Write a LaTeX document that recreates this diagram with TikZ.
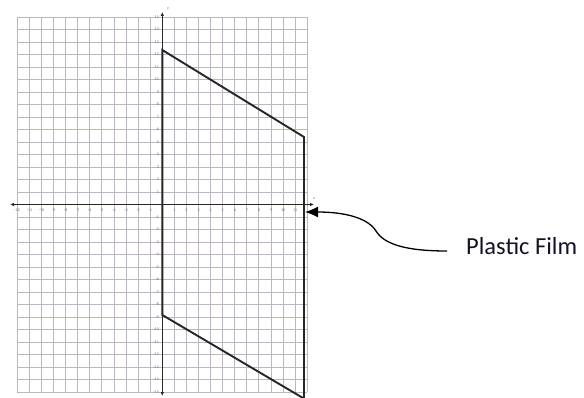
\documentclass[tikz,border=0pt]{standalone}
\usepackage{fontspec}
\setmainfont{Carlito}
\usetikzlibrary{arrows.meta}
\definecolor{gridc}{RGB}{188,182,192}
\definecolor{axisc}{RGB}{40,40,40}
\definecolor{tickc}{RGB}{110,110,110}
\definecolor{filmtextc}{RGB}{20,20,40}
\begin{document}
\begin{tikzpicture}[x=1pt,y=-1pt,
  gridline/.style={draw=gridc,line width=0.9pt},
  axisline/.style={draw=axisc,line width=1pt,{Latex[length=4pt,width=3.5pt]}-{Latex[length=4pt,width=3.5pt]}},
  filmline/.style={draw=black!85,line width=1.9pt},
  ticklbl/.style={font=\fontsize{4}{4}\selectfont,text=tickc,inner sep=0pt},
  filmtext/.style={font=\fontsize{24.5}{28}\selectfont,text=filmtextc,inner sep=0pt},
  pointer/.style={draw=black,line width=1.3pt,-{Latex[length=13pt,width=11pt]}}]
\useasboundingbox (0,0) rectangle (584,398);
\fill[white] (0,0) rectangle (584,398);
% grid
\foreach \i in {-12,...,12}
  \draw[gridline] ({162.3+12.08*\i},17) -- ({162.3+12.08*\i},392);
\foreach \j in {-15,...,15}
  \draw[gridline] (17.3,{204.5+12.5*\j}) -- (307.3,{204.5+12.5*\j});
% axes
\coordinate (xleft) at (10,204.5);
\coordinate (xright) at (314,204.5);
\coordinate (ybottom) at (162.3,396);
\coordinate (ytop) at (162.3,12);
\draw[axisline] (xleft) -- (xright);
\draw[axisline] (ybottom) -- (ytop);
\node[ticklbl] (ylab) at (168,9) {y};
\node[ticklbl] (xlab) at (314,199) {x};
% tick labels
\foreach \i in {-12,...,-1}
  \node[ticklbl] at ({162.3+12.08*\i},210) {\i};
\foreach \i in {1,...,11}
  \node[ticklbl] at ({162.3+12.08*\i},210) {\i};
\foreach \j in {1,...,15}
  \node[ticklbl,anchor=east] at (159,{204.5-12.5*\j}) {\j};
\foreach \j in {1,...,15}
  \node[ticklbl,anchor=east] at (159,{204.5+12.5*\j}) {-\j};
% film outline
\coordinate (A) at (162.3,50);
\coordinate (B) at (304,137);
\coordinate (C) at (304,398);
\coordinate (D) at (162.3,315);
\coordinate (E) at (303,398);
\draw[filmline] (C) -- (B) -- (A) -- (D) -- (E);
% label and pointer
\node[filmtext,anchor=base west] (film) at (466,255) {Plastic Film};
\coordinate (tip) at (305,212);
\coordinate (tail) at (447,251);
\draw[pointer] (tail) .. controls (405,251) and (384,244) .. (376,231)
  .. controls (368,218) and (345,212) .. (tip);
\end{tikzpicture}
\end{document}
